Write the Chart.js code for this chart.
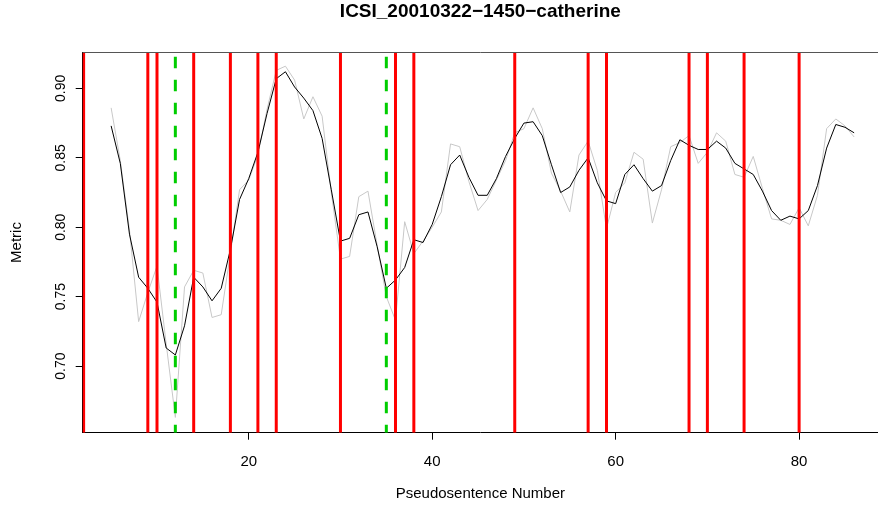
<!DOCTYPE html>
<html>
<head>
<meta charset="utf-8">
<script src="https://cdn.jsdelivr.net/npm/chart.js@4/dist/chart.umd.min.js"></script>
<style>
html, body { margin: 0; padding: 0; background: #fff; }
</style>
</head>
<body>
<canvas id="c" width="878" height="514"></canvas>
<script>
// pseudosentence numbers
var sentence = [5, 6, 7, 8, 9, 10, 11, 12, 13, 14, 15, 16, 17, 18, 19, 20, 21, 22, 23, 24,
  25, 26, 27, 28, 29, 30, 31, 32, 33, 34, 35, 36, 37, 38, 39, 40, 41, 42, 43, 44, 45,
  46, 47, 48, 49, 50, 51, 52, 53, 54, 55, 56, 57, 58, 59, 60, 61, 62, 63, 64, 65, 66,
  67, 68, 69, 70, 71, 72, 73, 74, 75, 76, 77, 78, 79, 80, 81, 82, 83, 84, 85, 86];

// smoothed metric (black)
var smoothed = [0.873, 0.846, 0.795, 0.764, 0.756, 0.746, 0.713, 0.708, 0.729, 0.764,
  0.757, 0.747, 0.756, 0.784, 0.820, 0.835, 0.854, 0.882, 0.907, 0.912,
  0.901, 0.893, 0.884, 0.864, 0.827, 0.790, 0.792, 0.809, 0.811, 0.786,
  0.756, 0.762, 0.771, 0.791, 0.789, 0.802, 0.822, 0.845, 0.852, 0.836,
  0.823, 0.823, 0.835, 0.851, 0.864, 0.875, 0.876, 0.866, 0.845, 0.825,
  0.829, 0.841, 0.850, 0.832, 0.819, 0.817, 0.838, 0.845, 0.835, 0.826,
  0.830, 0.848, 0.863, 0.859, 0.856, 0.856, 0.862, 0.857, 0.846, 0.842,
  0.838, 0.826, 0.812, 0.805, 0.808, 0.806, 0.812, 0.830, 0.857, 0.874,
  0.872, 0.868];

// raw metric (grey)
var raw = [0.886, 0.848, 0.798, 0.732, 0.753, 0.772, 0.716, 0.663, 0.757, 0.769,
  0.767, 0.735, 0.737, 0.781, 0.827, 0.834, 0.852, 0.885, 0.913, 0.916,
  0.906, 0.878, 0.894, 0.880, 0.825, 0.777, 0.779, 0.822, 0.826, 0.787,
  0.750, 0.733, 0.804, 0.781, 0.790, 0.800, 0.811, 0.860, 0.858, 0.833,
  0.812, 0.820, 0.834, 0.848, 0.868, 0.871, 0.886, 0.871, 0.839, 0.826,
  0.811, 0.852, 0.862, 0.841, 0.799, 0.825, 0.832, 0.854, 0.849, 0.803,
  0.827, 0.858, 0.861, 0.866, 0.846, 0.854, 0.868, 0.862, 0.838, 0.836,
  0.851, 0.828, 0.806, 0.805, 0.802, 0.814, 0.801, 0.823, 0.871, 0.878,
  0.873, 0.865];

// reference boundaries (red) and hypothesised ones (green dashed)
var boundaries = [2, 9, 10, 14, 18, 21, 23, 30, 36, 38, 49, 57, 59, 68, 70, 74, 80];
var hypothesised = [12, 35];

var xTicks = [20, 40, 60, 80];
var yTicks = [0.70, 0.75, 0.80, 0.85, 0.90];
var xRange = [1.9, 88.6];
var yRange = [0.652, 0.926];

var font = '"Liberation Sans", Arial, Helvetica, sans-serif';

function pairs(xs, ys) {
  return xs.map(function (x, i) { return { x: x, y: ys[i] }; });
}

var datasets = [];
boundaries.forEach(function (b) {
  datasets.push({
    data: [{ x: b, y: yRange[1] }, { x: b, y: yRange[0] }],
    borderColor: '#ff0000', borderWidth: 3, order: 0
  });
});
hypothesised.forEach(function (b) {
  datasets.push({
    data: [{ x: b, y: yRange[1] }, { x: b, y: yRange[0] }],
    borderColor: '#00cd00', borderWidth: 3, borderDash: [11.5, 11.5],
    borderDashOffset: 18.6, order: 0
  });
});
datasets.push({ data: pairs(sentence, smoothed), borderColor: '#000000', borderWidth: 1, order: 1 });
datasets.push({ data: pairs(sentence, raw), borderColor: '#c8c8c8', borderWidth: 1, order: 2 });
datasets.forEach(function (d) {
  d.showLine = true;
  d.pointRadius = 0;
  d.tension = 0;
  d.fill = false;
});

var topLine = {
  id: 'topLine',
  afterDraw: function (chart) {
    var a = chart.chartArea, ctx = chart.ctx;
    ctx.save();
    ctx.strokeStyle = '#555555';
    ctx.lineWidth = 1;
    ctx.beginPath();
    ctx.moveTo(a.left, Math.round(a.top) + 0.5);
    ctx.lineTo(a.right, Math.round(a.top) + 0.5);
    ctx.stroke();
    ctx.restore();
  }
};

new Chart(document.getElementById('c'), {
  type: 'scatter',
  data: { datasets: datasets },
  plugins: [topLine],
  options: {
    responsive: false,
    animation: false,
    events: [],
    layout: { padding: 0 },
    plugins: {
      legend: { display: false },
      tooltip: { enabled: false },
      title: {
        display: true,
        fullSize: false,
        text: 'ICSI_20010322\u22121450\u2212catherine',
        color: '#000',
        font: { family: font, size: 19, weight: 'bold' },
        padding: { top: 0, bottom: 29.5 }
      }
    },
    scales: {
      x: {
        type: 'linear',
        min: xRange[0],
        max: xRange[1],
        afterBuildTicks: function (s) { s.ticks = xTicks.map(function (v) { return { value: v }; }); },
        afterFit: function (s) { s.height = 81.3; },
        grid: { drawOnChartArea: false, drawTicks: true, tickLength: 7, color: '#000' },
        border: { display: true, color: '#000', width: 1 },
        ticks: { color: '#000', font: { family: font, size: 15 }, padding: 13, maxRotation: 0 },
        title: {
          display: true, text: 'Pseudosentence Number', color: '#000',
          font: { family: font, size: 15 }, padding: { top: 0, bottom: 11 }
        }
      },
      y: {
        type: 'linear',
        min: yRange[0],
        max: yRange[1],
        afterBuildTicks: function (s) { s.ticks = yTicks.map(function (v) { return { value: v }; }); },
        afterFit: function (s) { s.width = 82.7; },
        grid: { drawOnChartArea: false, drawTicks: true, tickLength: 7, color: '#000' },
        border: { display: true, color: '#000', width: 1 },
        ticks: {
          color: '#000', font: { family: font, size: 14 }, padding: 1,
          minRotation: 90, maxRotation: 90, crossAlign: 'center',
          callback: function (v) { return v.toFixed(2); }
        },
        title: {
          display: true, text: 'Metric', color: '#000',
          font: { family: font, size: 15 }, padding: { top: 8, bottom: 0 }
        }
      }
    }
  }
});
</script>
</body>
</html>
